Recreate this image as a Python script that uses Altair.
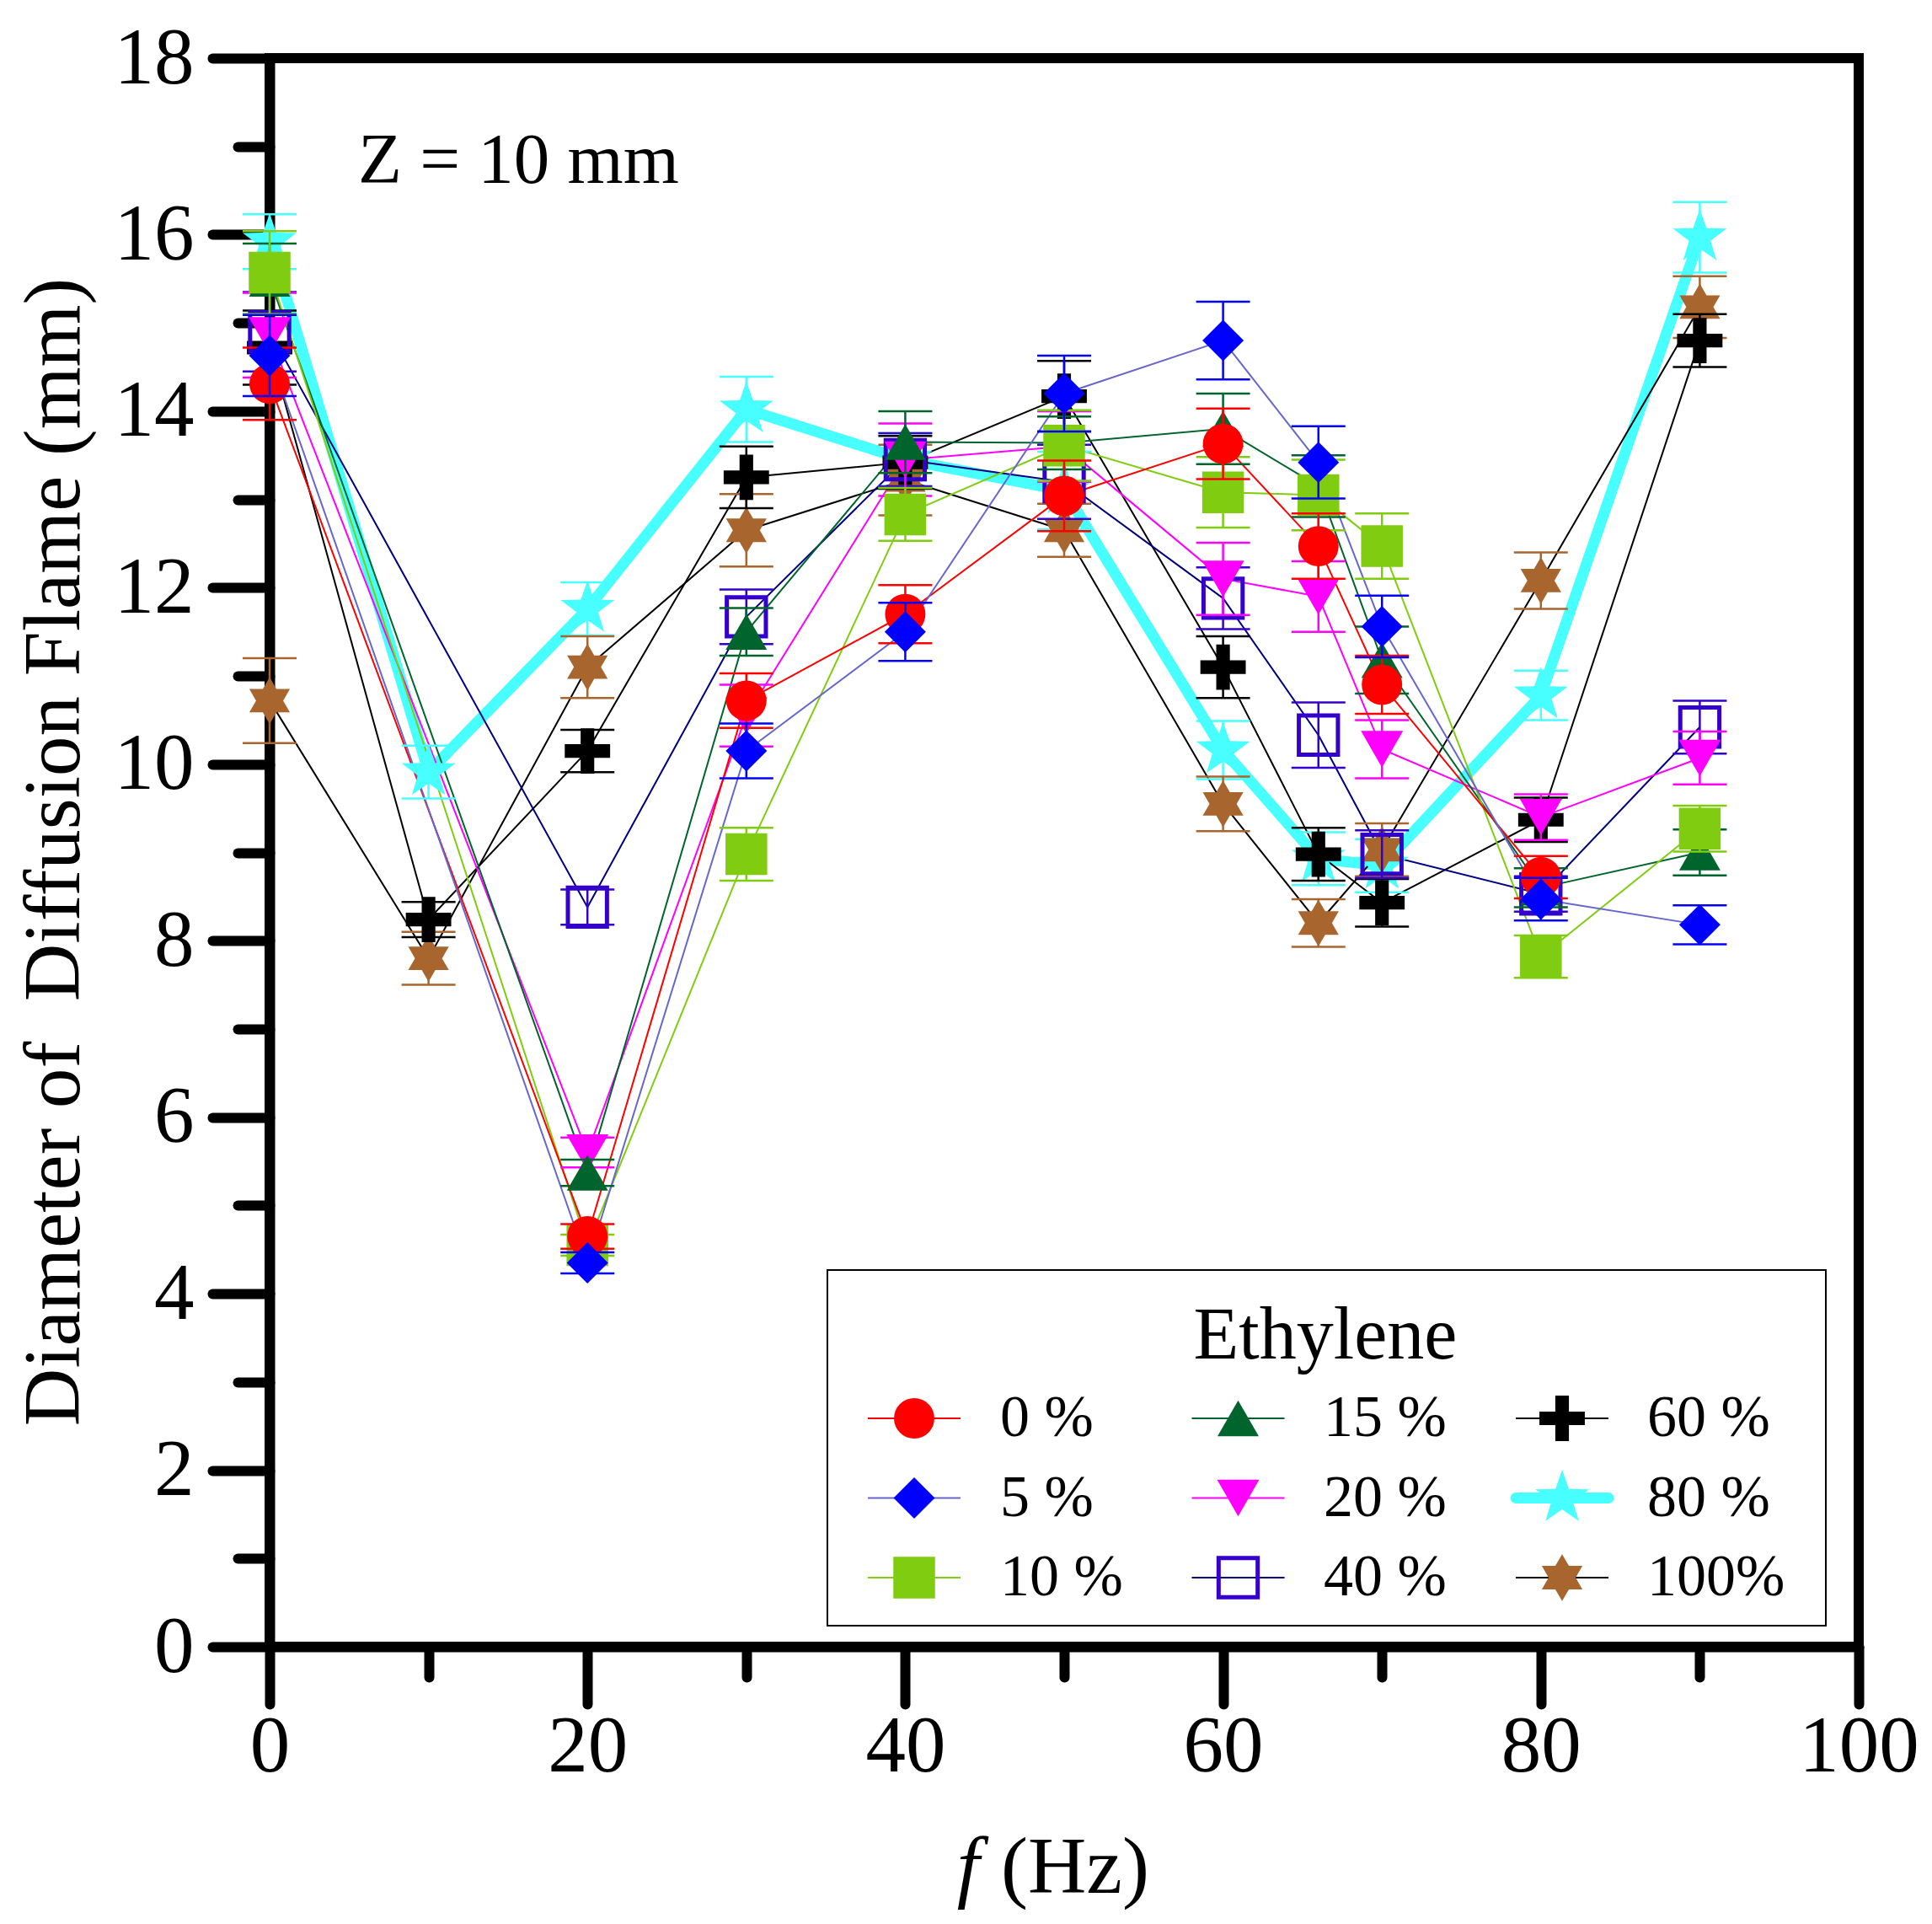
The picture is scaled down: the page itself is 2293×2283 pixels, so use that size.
import math
import altair as alt
import pandas as pd

# ---------------- data ----------------
freqs = [0, 10, 20, 30, 40, 50, 60, 66, 70, 80, 90]
names = ["0 %", "5 %", "10 %", "15 %", "20 %", "40 %", "60 %", "80 %", "100%"]

v0 = [14.31, None, 4.65, 10.72, 11.70, 13.04, 13.63, 12.47, 10.90, 8.72, None]
v5 = [14.63, None, 4.35, 10.15, 11.50, 14.20, 14.80, 13.42, 11.56, 8.47, 8.18]
v10 = [15.57, None, 4.55, 8.98, 12.83, 13.61, 13.08, 13.05, 12.47, 7.82, 9.27]
v15 = [15.50, None, 5.37, 11.50, 13.65, 13.64, 13.80, 13.15, 11.18, 8.60, 9.00]
v20 = [14.86, None, 5.60, 10.55, 13.45, 13.60, 12.10, 11.90, 10.17, 9.40, 10.07]
v40 = [14.90, None, 8.38, 11.67, 13.45, 13.20, 11.88, 10.33, 8.98, 8.53, 10.42]
v60 = [14.72, 8.24, 10.15, 13.25, 13.42, 14.17, 11.10, 8.98, 8.43, 9.37, 14.80]
v80 = [15.92, 9.91, 11.76, 14.02, 13.45, 13.10, 10.16, 8.93, 8.85, 10.78, 15.97]
v100 = [10.72, 7.80, 11.10, 12.65, 13.22, 12.65, 9.55, 8.20, 9.03, 12.08, 15.18]

e0 = [0.41, None, 0.14, 0.31, 0.33, 0.40, 0.40, 0.37, 0.33, 0.24, None]
e5 = [0.46, None, 0.12, 0.31, 0.33, 0.43, 0.44, 0.41, 0.35, 0.24, 0.22]
e10 = [0.47, None, 0.12, 0.30, 0.30, 0.40, 0.40, 0.40, 0.37, 0.24, 0.26]
e15 = [0.40, None, 0.15, 0.27, 0.35, 0.30, 0.40, 0.35, 0.38, 0.22, 0.26]
e20 = [0.48, None, 0.17, 0.35, 0.41, 0.40, 0.41, 0.40, 0.33, 0.26, 0.30]
e40 = [0.45, None, 0.20, 0.31, 0.30, 0.42, 0.35, 0.37, 0.27, 0.20, 0.30]
e60 = [0.42, 0.20, 0.24, 0.35, 0.30, 0.40, 0.35, 0.30, 0.27, 0.25, 0.30]
e80 = [0.31, 0.30, 0.30, 0.37, 0.30, 0.44, 0.33, 0.30, 0.30, 0.28, 0.40]
e100 = [0.48, 0.30, 0.35, 0.41, 0.40, 0.30, 0.31, 0.27, 0.30, 0.32, 0.35]

values = [v0, v5, v10, v15, v20, v40, v60, v80, v100]
errors = [e0, e5, e10, e15, e20, e40, e60, e80, e100]

marker_colors = ["#ff0000", "#0000ff", "#80cc10", "#00642d", "#ff00ff",
                 "#3300cc", "#000000", "#48ffff", "#a8652e"]
line_colors = ["#ff0000", "#6666cc", "#80cc10", "#00642d", "#ff00ff",
               "#000080", "#000000", "#48ffff", "#000000"]


# ---------------- marker shapes ----------------
def star_path(n, r_in):
    pts = []
    for k in range(2 * n):
        ang = -math.pi / 2 + k * math.pi / n
        r = 1.0 if k % 2 == 0 else r_in
        pts.append((r * math.cos(ang), r * math.sin(ang)))
    return "M" + "L".join(f"{x:.4f},{y:.4f}" for x, y in pts) + "Z"


def cross_path(a):
    pts = [(-a, -1), (a, -1), (a, -a), (1, -a), (1, a), (a, a), (a, 1), (-a, 1),
           (-a, a), (-1, a), (-1, -a), (-a, -a)]
    return "M" + "L".join(f"{x:.3f},{y:.3f}" for x, y in pts) + "Z"


STAR5 = star_path(5, 0.40)
STAR6 = star_path(6, 0.577)
CROSS = cross_path(0.30)

shapes = ["circle", "diamond", "square", "triangle-up", "triangle-down",
          "square", CROSS, STAR5, STAR6]
sizes = [2300, 2400, 2450, 2400, 2500, 2150, 2900, 4500, 3100]

rows = []
for name, vals, errs in zip(names, values, errors):
    for f, v, e in zip(freqs, vals, errs):
        if v is None:
            continue
        rows.append({"series": name, "f": f, "d": v, "lo": v - e, "hi": v + e})
df = pd.DataFrame(rows)

# ---------------- geometry ----------------
W, H = 1886, 1885
FONT = "Liberation Serif"

xscale = alt.Scale(domain=[0, 100], nice=False, zero=False)
yscale = alt.Scale(domain=[0, 18], nice=False, zero=False)

xaxis = alt.Axis(
    values=list(range(0, 101, 10)),
    labelExpr="datum.value % 20 === 0 ? datum.label : ''",
    tickSize={"condition": {"test": "datum.value % 20 === 0", "value": 68}, "value": 36},
    labelFlush=False,
    title=None, grid=False,
)
yaxis = alt.Axis(
    values=list(range(0, 19)),
    labelExpr="datum.value % 2 === 0 ? datum.label : ''",
    tickSize={"condition": {"test": "datum.value % 2 === 0", "value": 68}, "value": 38},
    labelFlush=False,
    title=None, grid=False,
)

X = alt.X("f:Q", scale=xscale, axis=xaxis)
Y = alt.Y("d:Q", scale=yscale, axis=yaxis)

base = alt.Chart(df)
order = [7, 8, 6, 5, 4, 3, 2, 0, 1]

layers = []
# lines (cyan first, underneath)
for i in order:
    nm = names[i]
    lw = 13 if nm == "80 %" else 2
    layers.append(
        base.transform_filter(alt.datum.series == nm)
        .mark_line(color=line_colors[i], strokeWidth=lw, strokeJoin="round")
        .encode(x=X, y=Y)
    )

# error bars + markers
for i in order:
    nm = names[i]
    sub = base.transform_filter(alt.datum.series == nm)
    col = marker_colors[i]
    layers.append(
        sub.mark_rule(color=col, strokeWidth=2.5).encode(
            x=X, y=alt.Y("lo:Q", scale=yscale, axis=yaxis), y2="hi:Q")
    )
    for fld in ["lo", "hi"]:
        layers.append(
            sub.mark_tick(color=col, orient="horizontal", size=64, thickness=2.5, opacity=1)
            .encode(x=X, y=alt.Y(f"{fld}:Q", scale=yscale, axis=yaxis))
        )
    if nm == "40 %":
        pt = sub.mark_point(shape="square", filled=False, stroke=col, strokeWidth=5,
                            size=sizes[i], opacity=1)
    else:
        pt = sub.mark_point(shape=shapes[i], filled=True, color=col, size=sizes[i],
                            opacity=1, strokeWidth=0)
    layers.append(pt.encode(x=X, y=Y))

one = alt.Chart(pd.DataFrame({"a": [0]}))

# texts
layers.append(one.mark_text(text="Z = 10 mm", font=FONT, fontSize=85, align="left",
                            baseline="alphabetic", color="black")
              .encode(x=alt.value(105), y=alt.value(148)))
layers.append(one.mark_text(text="Diameter of\u00a0 Diffusion Flame (mm)", font=FONT, fontSize=95,
                            angle=270, align="center", baseline="middle", color="black")
              .encode(x=alt.value(-255), y=alt.value(942)))
layers.append(one.mark_text(text="f", font=FONT, fontSize=96, fontStyle="italic",
                            align="center", baseline="alphabetic", color="black")
              .encode(x=alt.value(829), y=alt.value(2177)))
layers.append(one.mark_text(text="(Hz)", font=FONT, fontSize=96,
                            align="left", baseline="alphabetic", color="black")
              .encode(x=alt.value(868), y=alt.value(2177)))

# legend
layers.append(one.mark_rect(fill="white", stroke="black", strokeWidth=2)
              .encode(x=alt.value(662), x2=alt.value(1847), y=alt.value(1438), y2=alt.value(1860)))
layers.append(one.mark_text(text="Ethylene", font=FONT, fontSize=88, align="center",
                            baseline="middle", color="black")
              .encode(x=alt.value(1253), y=alt.value(1517)))
for i, nm in enumerate(names):
    c, r = i // 3, i % 3
    cx = 765 + 384.5 * c
    cy = 1614 + 94.5 * r
    lw = 13 if nm == "80 %" else 2
    layers.append(one.mark_rule(color=line_colors[i], strokeWidth=lw,
                                strokeCap="round" if nm == "80 %" else "butt")
                  .encode(x=alt.value(cx - 55), x2=alt.value(cx + 55), y=alt.value(cy)))
    if nm == "40 %":
        pt = one.mark_point(shape="square", filled=False, stroke=marker_colors[i],
                            strokeWidth=5, size=sizes[i], opacity=1)
    else:
        pt = one.mark_point(shape=shapes[i], filled=True, color=marker_colors[i],
                            size=sizes[i], opacity=1, strokeWidth=0)
    layers.append(pt.encode(x=alt.value(cx), y=alt.value(cy)))
    layers.append(one.mark_text(text=nm, font=FONT, fontSize=70, align="left",
                                baseline="middle", color="black")
                  .encode(x=alt.value(867 + 384 * c), y=alt.value(cy)))

chart = alt.layer(*layers).properties(
    width=W, height=H,
    padding={"left": 312, "top": 61, "right": 79, "bottom": 321},
    autosize=alt.AutoSizeParams(type="none"),
).configure_view(
    stroke="black", strokeWidth=12
).configure_axis(
    domainColor="black", domainWidth=12, domainCap="round",
    tickColor="black", tickWidth=12, tickCap="round",
    labelFont=FONT, labelFontSize=95, labelColor="black",
).configure_axisX(
    labelPadding=4,
).configure_axisY(
    labelPadding=22,
)

chart.save("out.html", embed_options={"renderer": "svg", "actions": False})
